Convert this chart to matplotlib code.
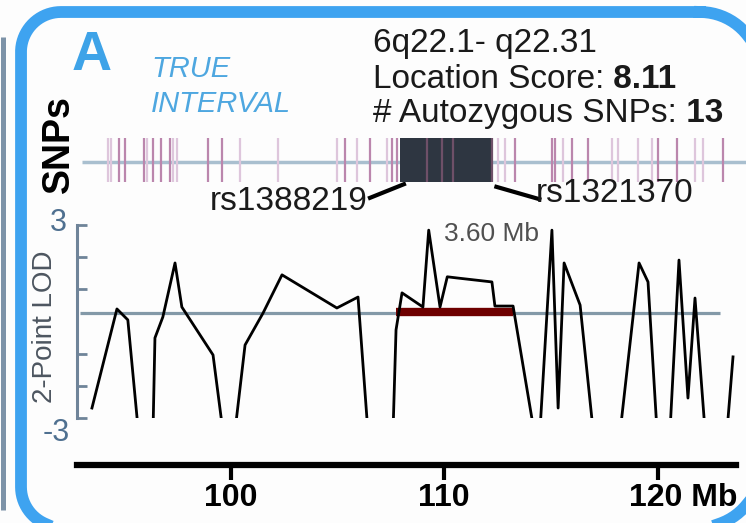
import numpy as np
import matplotlib
matplotlib.use('Agg')
import matplotlib.pyplot as plt
from matplotlib.patches import Rectangle
import matplotlib.transforms as mtrans

plt.rcParams['font.family'] = ['Liberation Sans', 'DejaVu Sans']

# ---------------- data ----------------
lod_pos = [93.50, 94.67, 95.18, 95.67, 96.36, 96.45, 96.82, 97.39, 97.71, 99.17,
           99.63, 100.20, 100.67, 101.51, 102.40, 104.97, 105.96, 106.42, 107.60, 107.74,
           108.02, 109.00, 109.27, 109.80, 110.14, 110.64, 112.23, 112.37, 113.22, 114.20,
           114.48, 115.04, 115.33, 115.61, 116.36, 116.97, 118.24, 119.12, 119.54, 119.96,
           120.57, 120.99, 121.41, 121.74, 122.21, 123.24, 123.52]
lod_val = [-2.69, 0.39, 0.05, -3.4, -3.4, -0.51, 0.14, 1.82, 0.45, -1.04,
           -3.4, -3.4, -0.73, 0.26, 1.45, 0.42, 0.76, -3.4, -3.4, -0.26,
           0.89, 0.45, 2.84, 0.45, 1.39, 1.35, 1.23, 0.48, 0.48, -3.4,
           -3.4, 2.84, -2.69, 1.82, 0.51, -3.4, -3.4, 1.82, 1.23, -3.4,
           -3.4, 1.91, -2.38, 0.73, -3.4, -3.4, -1.10]

threshold = 0.26
threshold_range = (92.95, 122.90)
true_interval = (107.74, 113.22)
interval_label = '3.60 Mb'
interval_label_pos = (112.2, 2.72)

snp_dark = [94.76, 95.04, 95.93, 96.36, 96.73, 97.15, 98.93, 99.59, 105.35, 106.52,
            107.55, 107.78, 113.31, 115.04, 115.19, 115.98, 116.73, 120.01, 120.90, 123.06]
snp_light = [94.25, 94.40, 96.07, 97.29, 97.48, 100.43, 102.21, 104.97, 105.91, 107.31,
             112.51, 112.84, 115.56, 117.86, 118.14, 119.07, 119.73, 121.74, 122.12]
block = (107.92, 112.28)
snp_in_block = [109.19, 109.89, 110.40, 112.23]

x_ticks = [100, 110, 120]
x_ticklabels = ['100', '110', '120 Mb']
y_ticks = [-3, -2, -1, 1, 2, 3]

region = '6q22.1- q22.31'
loc_score = '8.11'
n_snps = '13'

# ---------------- figure ----------------
W, H = 746, 523
fig = plt.figure(figsize=(W / 100, H / 100), dpi=100)
fig.patch.set_facecolor('#fdfdfd')


def px_axes(x0, y0, x1, y1):
    return fig.add_axes([x0 / W, 1 - y1 / H, (x1 - x0) / W, (y1 - y0) / H])


# background frame (pixel coordinates, y downward)
bg = fig.add_axes([0, 0, 1, 1])
bg.set_xlim(0, W)
bg.set_ylim(H, 0)
bg.axis('off')


def rounded_frame(x0, y0, x1, y1, rl, rr, n=40):
    def arc(cx, cy, r, a0, a1):
        t = np.radians(np.linspace(a0, a1, n))
        return cx + r * np.cos(t), cy + r * np.sin(t)
    xs, ys = [], []
    for (cx, cy, r, a0, a1) in [(x1 - rr, y0 + rr, rr, -90, 0),
                                (x1 - rr, y1 - rr, rr, 0, 90),
                                (x0 + rl, y1 - rl, rl, 90, 180),
                                (x0 + rl, y0 + rl, rl, 180, 270)]:
        ax_, ay_ = arc(cx, cy, r, a0, a1)
        xs.extend(ax_)
        ys.extend(ay_)
    xs.append(xs[0])
    ys.append(ys[0])
    return xs, ys


fx, fy = rounded_frame(21, 12, 760, 527, 40, 60)
bg.plot(fx, fy, color='#3ea3f0', lw=8.5, solid_joinstyle='round')
bg.plot([2.5, 2.5], [37, 510], color='#7d93a8', lw=3.6, solid_capstyle='butt')

xlim = (92.80, 123.66)

# LOD axes
ax = px_axes(77, 225, 736, 418)
ax.patch.set_alpha(0)
ax.set_xlim(*xlim)
ax.set_ylim(-3, 3)
for s in ['top', 'right']:
    ax.spines[s].set_visible(False)
ax.spines['left'].set_color('#6f8499')
ax.spines['left'].set_linewidth(2.2)
ax.spines['bottom'].set_position(('outward', 47 * 0.72))
ax.spines['bottom'].set_linewidth(4.5)
ax.spines['bottom'].set_color('black')

ax.set_yticks(y_ticks)
ax.tick_params(axis='y', direction='in', length=7, width=2, color='#6f8499', labelleft=False)
ax.set_xticks(x_ticks)
ax.set_xticklabels(x_ticklabels)
ax.tick_params(axis='x', direction='out', length=11, width=3, color='black',
               labelsize=23, pad=2)
labs = ax.get_xticklabels()
for lab in labs:
    lab.set_fontweight('bold')
labs[-1].set_horizontalalignment('left')
labs[-1].set_transform(labs[-1].get_transform() +
                       mtrans.ScaledTranslation(-0.29, 0, fig.dpi_scale_trans))

ax.hlines(threshold, *threshold_range, color='#8399a8', lw=2.3, zorder=1)
ax.hlines(threshold + 0.02, *true_interval, color='#6e0000', lw=6, zorder=2)
ax.plot(lod_pos, lod_val, color='black', lw=2.0, zorder=3)
ax.text(*interval_label_pos, interval_label,
        ha='center', va='center', fontsize=19, color='#505050')

ax.text(-0.029, 1.012, '3', transform=ax.transAxes, ha='center', va='center',
        fontsize=22, color='#4f7090')
ax.text(-0.032, -0.078, '-3', transform=ax.transAxes, ha='center', va='center',
        fontsize=22, color='#4f7090')
fig.text(45 / W, 1 - 327 / H, '2-Point LOD', rotation=90, ha='center', va='center',
         fontsize=20, color='#4d5660')

# SNP track
snp = px_axes(77, 138, 736, 182)
snp.patch.set_alpha(0)
snp.set_xlim(*xlim)
snp.set_ylim(0, 1)
snp.axis('off')
snp.hlines(0.455, 93.05, 124.3, color='#a9bfcf', lw=2.5, clip_on=False, zorder=0)
snp.vlines(snp_light, 0, 1, color='#dec6dc', lw=1.6, zorder=1)
snp.vlines(snp_dark, 0, 1, color='#bb86ad', lw=1.6, zorder=1)
snp.add_patch(Rectangle((block[0], 0), block[1] - block[0], 1, fc='#2e3641',
                        ec='none', zorder=3))
snp.vlines(snp_in_block, 0, 1, color='#6e5068', lw=1.6, zorder=4)
snp.plot([106.52, 108.11], [-0.36, -0.05], color='black', lw=3, clip_on=False)
snp.plot([112.44, 114.45], [-0.11, -0.39], color='black', lw=3, clip_on=False)
snp.text(106.40, -0.44, 'rs1388219', ha='right', va='center', fontsize=24,
         color='#1a1a1a', clip_on=False)
snp.text(114.29, -0.25, 'rs1321370', ha='left', va='center', fontsize=24,
         color='#1a1a1a', clip_on=False)

fig.text(59 / W, 1 - 144 / H, 'SNPs', rotation=90, ha='center', va='center',
         fontsize=27, fontweight='bold', color='black')

# header texts
fig.text(72 / W, 1 - 70 / H, 'A', fontsize=40, fontweight='bold', color='#3ea3e8',
         va='baseline')
fig.text(151 / W, 1 - 77 / H, 'TRUE', fontsize=21, style='italic', color='#4ea7e0',
         va='baseline')
fig.text(151 / W, 1 - 112 / H, 'INTERVAL', fontsize=21, style='italic', color='#4ea7e0',
         va='baseline')

fig.text(373 / W, 1 - 52 / H, region, fontsize=24, color='#1a1a1a', va='baseline')
t1 = fig.text(373 / W, 1 - 88 / H, 'Location Score:', fontsize=24, color='#1a1a1a',
              va='baseline')
t2 = fig.text(373 / W, 1 - 122 / H, '# Autozygous SNPs:', fontsize=24, color='#1a1a1a',
              va='baseline')
bg.annotate(' ' + loc_score, xy=(1, 0), xycoords=t1, va='bottom', ha='left',
            fontsize=24, fontweight='bold', color='#1a1a1a')
bg.annotate(' ' + n_snps, xy=(1, 0), xycoords=t2, va='bottom', ha='left',
            fontsize=24, fontweight='bold', color='#1a1a1a')

fig.savefig('out.png', dpi=100, facecolor=fig.get_facecolor())
